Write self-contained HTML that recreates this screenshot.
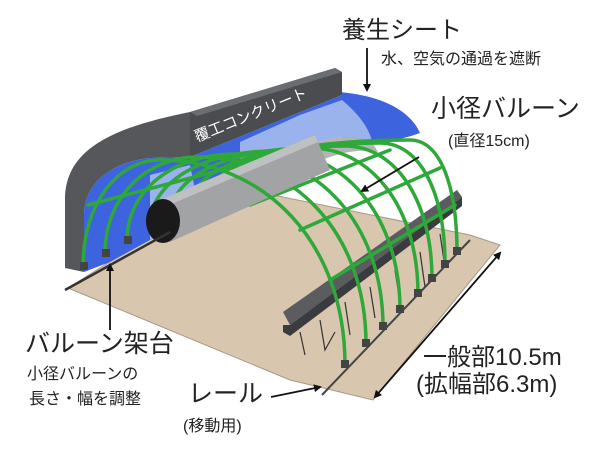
<!DOCTYPE html>
<html><head><meta charset="utf-8"><style>
html,body{margin:0;padding:0;background:#fff;}
svg{display:block}
text{font-family:"Liberation Sans","Noto Sans CJK JP",sans-serif;fill:#222}
</style></head><body>
<svg width="600" height="449" viewBox="0 0 600 449" xmlns="http://www.w3.org/2000/svg">
<defs>
<marker id="ah" markerWidth="8" markerHeight="8" refX="6" refY="4" orient="auto" markerUnits="userSpaceOnUse"><path d="M0,0 L8,4 L0,8 Z" fill="#111"/></marker>
<marker id="ah2" markerWidth="8" markerHeight="8" refX="2" refY="4" orient="auto" markerUnits="userSpaceOnUse"><path d="M8,0 L0,4 L8,8 Z" fill="#111"/></marker>
</defs>
<polygon points="68,288 200,205 263,193 470,235 500,245 373,400 290,380" fill="#d8c6ae" stroke="#a89886" stroke-width="1"/>
<path d="M338,92 C380,95 410,110 420,133 C395,142 370,145 345,138 C320,132 290,140 250,150 L190,157 L342,95 Z" fill="#3d63de"/>
<path d="M240,142 L300,115 L342,100 C360,115 370,130 372,142 C345,132 320,140 300,150 C280,158 260,155 240,150 Z" fill="#9ab3ec"/>
<path d="M240,150 C265,157 285,156 300,150 C320,140 345,132 372,142 L378,152 C345,146 320,162 290,172 L240,185 Z" fill="#b4b4b4"/>
<path d="M190,112 L335,68 L342,72 L342,95 L190,157 Z" fill="#4a4c50"/>
<path d="M190,112 L335,68 L342,72 L197,116 Z" fill="#6a6d72"/>
<path d="M65,268 L65,200 C65,150 110,128 190,112 L190,157 L150,158 C110,162 84,185 84,215 L84,272 Z" fill="#55575b"/>
<path d="M84,272 L84,215 C84,185 110,162 150,158 L190,157 L240,150 L240,200 L150,240 L110,262 Z" fill="#3d63de"/>
<path d="M150,175 L190,165 L200,215 L150,240 Z" fill="#9ab3ec"/>
<text x="0" y="0" font-size="15" style="fill:#fff" transform="translate(197,142) rotate(-22)">覆工コンクリート</text>
<polygon points="283,312 457,190 462,197 290,325" fill="#5a5c60"/>
<polygon points="283,325 290,325 462,197 462,206 290,336 283,332" fill="#3a3b3e"/>
<g stroke="#333" stroke-width="1.2" fill="none">
<path d="M300,332 L305,355 M320,320 L325,350 L335,332 M345,302 L350,335 M370,287 L375,318 M395,270 L400,302 M420,252 L425,287 M440,234 L445,267"/>
</g>
<g fill="none" stroke="#2fa83a" stroke-width="3.5" stroke-linecap="round">
<path d="M237,176 C237,154 321,140 410,140 C440,140 457,185 457,252"/>
<path d="M215,189 C215,161 292,143 380,143 C420,143 445,192 445,265"/>
<path d="M193,202 C193,168 262,146 345,146 C394,146 432,198 432,279"/>
<path d="M171,215 C171,175 233,148 310,148 C370,148 418,206 418,294"/>
<path d="M149,228 C149,182 204,151 273,151 C343,151 400,215 400,310"/>
<path d="M127,241 C127,189 175,154 235,154 C316,154 383,223 383,327"/>
<path d="M105,254 C105,196 147,157 198,157 C291,157 366,231 366,344"/>
<path d="M88,205 L240,165"/>
<path d="M250,205 L390,150"/>
<path d="M300,230 L440,168"/>
<path d="M330,280 L455,205"/>
</g>
<path d="M160,200 L315,135 L330,170 L170,242 Z" fill="#a2a3a5"/>
<path d="M160,200 L315,135 L318,142 L162,208 Z" fill="#bfc0c2"/>
<ellipse cx="163" cy="221" rx="17" ry="22" fill="#1a1a1a"/>
<path d="M83,267 C83,203 118,160 160,160 C264,160 345,242 345,365" fill="none" stroke="#2fa83a" stroke-width="3.5"/>
<g fill="#444">
<rect x="80" y="262" width="8" height="8"/><rect x="102" y="249" width="8" height="8"/><rect x="124" y="236" width="8" height="8"/>
<rect x="341" y="360" width="8" height="8"/><rect x="362" y="339" width="8" height="8"/><rect x="379" y="322" width="8" height="8"/><rect x="396" y="305" width="8" height="8"/><rect x="414" y="289" width="8" height="8"/><rect x="428" y="274" width="8" height="8"/><rect x="441" y="260" width="8" height="8"/><rect x="453" y="247" width="8" height="8"/>
</g>
<line x1="65" y1="290" x2="170" y2="232" stroke="#333" stroke-width="2.5"/>
<line x1="322" y1="395" x2="470" y2="240" stroke="#444" stroke-width="2"/>
<text x="342" y="38" font-size="24">養生シート</text>
<text x="381" y="64" font-size="16">水、空気の通過を遮断</text>
<line x1="367" y1="48" x2="367" y2="90" stroke="#111" stroke-width="1.8" marker-end="url(#ah)"/>
<text x="431" y="117" font-size="25">小径バルーン</text>
<text x="448" y="146" font-size="16">(直径15cm)</text>
<line x1="419" y1="157" x2="362" y2="191" stroke="#111" stroke-width="1.8" marker-end="url(#ah)"/>
<text x="25" y="352" font-size="25">バルーン架台</text>
<text x="27" y="379" font-size="16">小径バルーンの</text>
<text x="29" y="404" font-size="16">長さ・幅を調整</text>
<line x1="110" y1="330" x2="110" y2="265" stroke="#111" stroke-width="1.8" marker-end="url(#ah)"/>
<text x="188" y="402" font-size="25">レール</text>
<line x1="271" y1="397" x2="320" y2="387" stroke="#111" stroke-width="1.8" marker-end="url(#ah)"/>
<text x="183" y="431" font-size="16">(移動用)</text>
<text x="423" y="365" font-size="24">一般部10.5m</text>
<text x="416" y="392" font-size="24">(拡幅部6.3m)</text>
<line x1="500" y1="253" x2="375" y2="397" stroke="#111" stroke-width="1.8" marker-end="url(#ah)" marker-start="url(#ah2)"/>
</svg>
</body></html>
